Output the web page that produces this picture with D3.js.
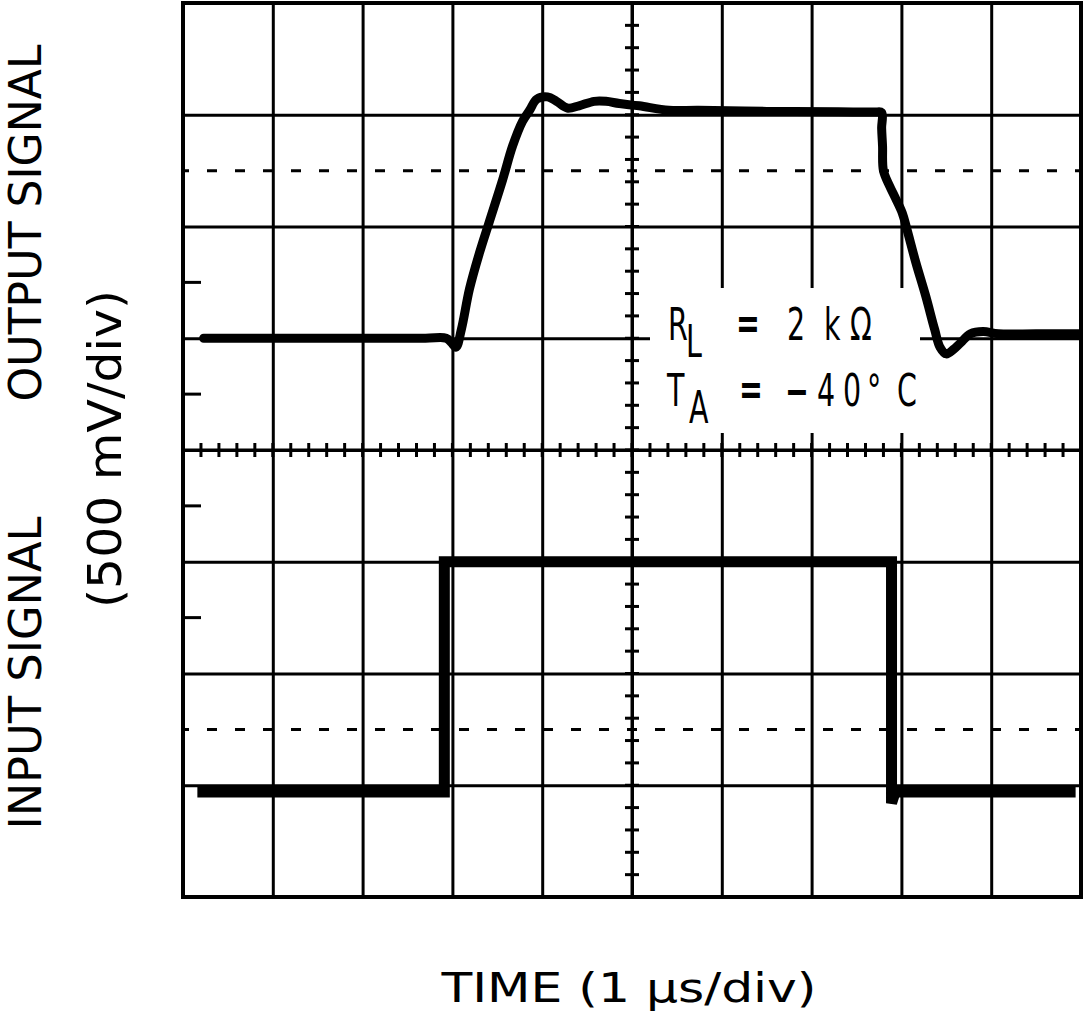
<!DOCTYPE html>
<html>
<head>
<meta charset="utf-8">
<script src="https://cdn.jsdelivr.net/npm/d3@7"></script>
<style>
  body { margin: 0; background: #fff; }
  text { font-family: "Liberation Sans Narrow", "DejaVu Sans Condensed", "Liberation Sans", sans-serif; fill: #000; }
</style>
</head>
<body>
<div id="scope"></div>
<script>
// Define data (time in us, level in volts, 500 mV/div)

var timeTicks = [1, 2, 3, 4, 5, 6, 7, 8, 9];
var levelTicks = [-1.5, -1, -0.5, 0, 0.5, 1, 1.5];
var dashedLevels = [1.25, -1.25];
var edgeTicks = [0.75, 0.25, -0.25, -0.75];

var inputTime  = [0.16, 2.91, 2.91, 7.89, 7.89, 7.93, 9.94];
var inputLevel = [-1.53, -1.53, -0.50, -0.50, -1.58, -1.53, -1.53];

var outputTime = [0.23, 1.5, 2.7, 2.93, 2.99, 3.04, 3.10, 3.19, 3.30, 3.41, 3.56, 3.67, 3.78, 3.86, 3.94,
  4.06, 4.16, 4.28, 4.41, 4.58, 4.71, 4.86, 5.08, 5.41, 5.74, 6.5, 7.3, 7.70, 7.78, 7.78, 7.79, 7.80, 7.87, 7.93,
  8.01, 8.06, 8.16, 8.27, 8.37, 8.43, 8.50, 8.58, 8.66, 8.77, 8.91, 9.08, 9.5, 9.99];
var outputLevel = [0.50, 0.50, 0.50, 0.50, 0.48, 0.46, 0.54, 0.72, 0.88, 1.02, 1.21, 1.36, 1.47, 1.52, 1.57,
  1.58, 1.56, 1.53, 1.54, 1.56, 1.56, 1.55, 1.54, 1.52, 1.52, 1.515, 1.513, 1.512, 1.51, 1.44, 1.36, 1.25, 1.18, 1.13,
  1.06, 0.99, 0.84, 0.69, 0.54, 0.46, 0.43, 0.45, 0.48, 0.52, 0.53, 0.52, 0.52, 0.52];

var margin = {top: 3, right: 2, bottom: 124, left: 183};
    width = 1083 - margin.left - margin.right;
    height = 1021 - margin.top - margin.bottom;

var root = d3.select("#scope")
    .append("svg")
    .attr("width", 1083)
    .attr("height", 1021);

var svg = root.append("g")
    .attr("transform", `translate(${margin.left}, ${margin.top})`);

// Define scales

var xScale = d3.scaleLinear().domain([0, 10]).range([0, width]);
var yScale = d3.scaleLinear().domain([-2, 2]).range([height, 0]);

// Draw grid

var xGrid = svg.append("g")
    .attr("transform", `translate(0, ${height})`)
    .call(d3.axisBottom(xScale).tickValues(timeTicks).tickSize(height).tickFormat(""));
xGrid.selectAll("line").attr("y2", -height);

var yGrid = svg.append("g")
    .call(d3.axisLeft(yScale).tickValues(levelTicks).tickSize(-width).tickFormat(""));

svg.selectAll(".domain").remove();
svg.selectAll(".tick line").attr("stroke", "#000").attr("stroke-width", 3);

svg.selectAll(".dashed")
    .data(dashedLevels)
    .enter().append("line")
    .attr("class", "dashed")
    .attr("x1", 0)
    .attr("x2", width)
    .attr("y1", function(d) { return yScale(d); })
    .attr("y2", function(d) { return yScale(d); })
    .attr("stroke", "#000")
    .attr("stroke-width", 3)
    .attr("stroke-dasharray", "10,18")
    .attr("stroke-dashoffset", 4);

// minor ticks on the centre lines

svg.selectAll(".hminor")
    .data(d3.range(1, 50))
    .enter().append("line")
    .attr("x1", function(d) { return xScale(d / 5); })
    .attr("x2", function(d) { return xScale(d / 5); })
    .attr("y1", yScale(0) - 7)
    .attr("y2", yScale(0) + 7)
    .attr("stroke", "#000")
    .attr("stroke-width", 3);

svg.selectAll(".vminor")
    .data(d3.range(1, 40))
    .enter().append("line")
    .attr("x1", xScale(5) - 7)
    .attr("x2", xScale(5) + 7)
    .attr("y1", function(d) { return yScale(-2 + d / 10); })
    .attr("y2", function(d) { return yScale(-2 + d / 10); })
    .attr("stroke", "#000")
    .attr("stroke-width", 3);

svg.selectAll(".edge")
    .data(edgeTicks)
    .enter().append("line")
    .attr("x1", 0)
    .attr("x2", 18)
    .attr("y1", function(d) { return yScale(d); })
    .attr("y2", function(d) { return yScale(d); })
    .attr("stroke", "#000")
    .attr("stroke-width", 3);

svg.append("line")
    .attr("x1", 0).attr("x2", width)
    .attr("y1", yScale(0)).attr("y2", yScale(0))
    .attr("stroke", "#000").attr("stroke-width", 3);

svg.append("line")
    .attr("x1", xScale(5)).attr("x2", xScale(5))
    .attr("y1", 0).attr("y2", height)
    .attr("stroke", "#000").attr("stroke-width", 3);

// Label box (covers the grid)

svg.append("rect")
    .attr("x", 650 - margin.left)
    .attr("y", 288 - margin.top)
    .attr("width", 270)
    .attr("height", 145)
    .attr("fill", "#fff");

// note text: one text per row, squeezed to a narrow face
var squeeze = 0.72;
var noteRows = [
  [{t: "R", x: 668, y: 340}, {t: "L", x: 686, y: 357}, {t: "=", x: 736, y: 338, b: 1},
   {t: "2", x: 787, y: 340}, {t: "k", x: 824, y: 340}, {t: "\u03A9", x: 850, y: 340}],
  [{t: "T", x: 667, y: 406}, {t: "A", x: 689, y: 423}, {t: "=", x: 739, y: 404, b: 1},
   {t: "\u2212", x: 785, y: 406, b: 1}, {t: "4", x: 817, y: 406}, {t: "0", x: 843, y: 406},
   {t: "\u00B0", x: 867, y: 406}, {t: "C", x: 897, y: 406}]
];

noteRows.forEach(function(row) {
  var txt = root.append("text")
    .attr("transform", `scale(${squeeze}, 1)`)
    .style("font-size", "44px");
  row.forEach(function(p) {
    txt.append("tspan")
      .attr("x", p.x / squeeze)
      .attr("y", p.y)
      .style("font-weight", p.b ? "bold" : "normal")
      .text(p.t);
  });
});

// Draw signals

var line = d3.line()
    .x(function(d) { return xScale(d[0]); })
    .y(function(d) { return yScale(d[1]); });

svg.append("path")
    .datum(d3.zip(inputTime, inputLevel))
    .attr("d", line)
    .attr("fill", "none")
    .attr("stroke", "#000")
    .attr("stroke-width", 11)
    .attr("stroke-linejoin", "miter");

svg.append("path")
    .datum(d3.zip(outputTime, outputLevel))
    .attr("d", line.curve(d3.curveCatmullRom.alpha(0.5)))
    .attr("fill", "none")
    .attr("stroke", "#000")
    .attr("stroke-width", 9)
    .attr("stroke-linejoin", "round")
    .attr("stroke-linecap", "round");

// Frame

svg.append("rect")
    .attr("x", 0)
    .attr("y", 0)
    .attr("width", width)
    .attr("height", height)
    .attr("fill", "none")
    .attr("stroke", "#000")
    .attr("stroke-width", 4);

// Draw labels

function sideLabel(txt, x, y, len, size) {
  root.append("text")
    .attr("transform", `translate(${x}, ${y}) rotate(-90)`)
    .attr("text-anchor", "middle")
    .attr("textLength", len)
    .attr("lengthAdjust", "spacingAndGlyphs")
    .style("font-size", size + "px")
    .text(txt);
}

sideLabel("OUTPUT SIGNAL", 41, 223, 357, 44);
sideLabel("INPUT SIGNAL", 41, 673, 313, 44);
sideLabel("(500 mV/div)", 121, 449, 318, 46);

root.append("text")
    .attr("x", 629)
    .attr("y", 1002)
    .attr("text-anchor", "middle")
    .attr("textLength", 375)
    .attr("lengthAdjust", "spacingAndGlyphs")
    .style("font-size", "40px")
    .text("TIME (1 \u03BCs/div)");
</script>
</body>
</html>
